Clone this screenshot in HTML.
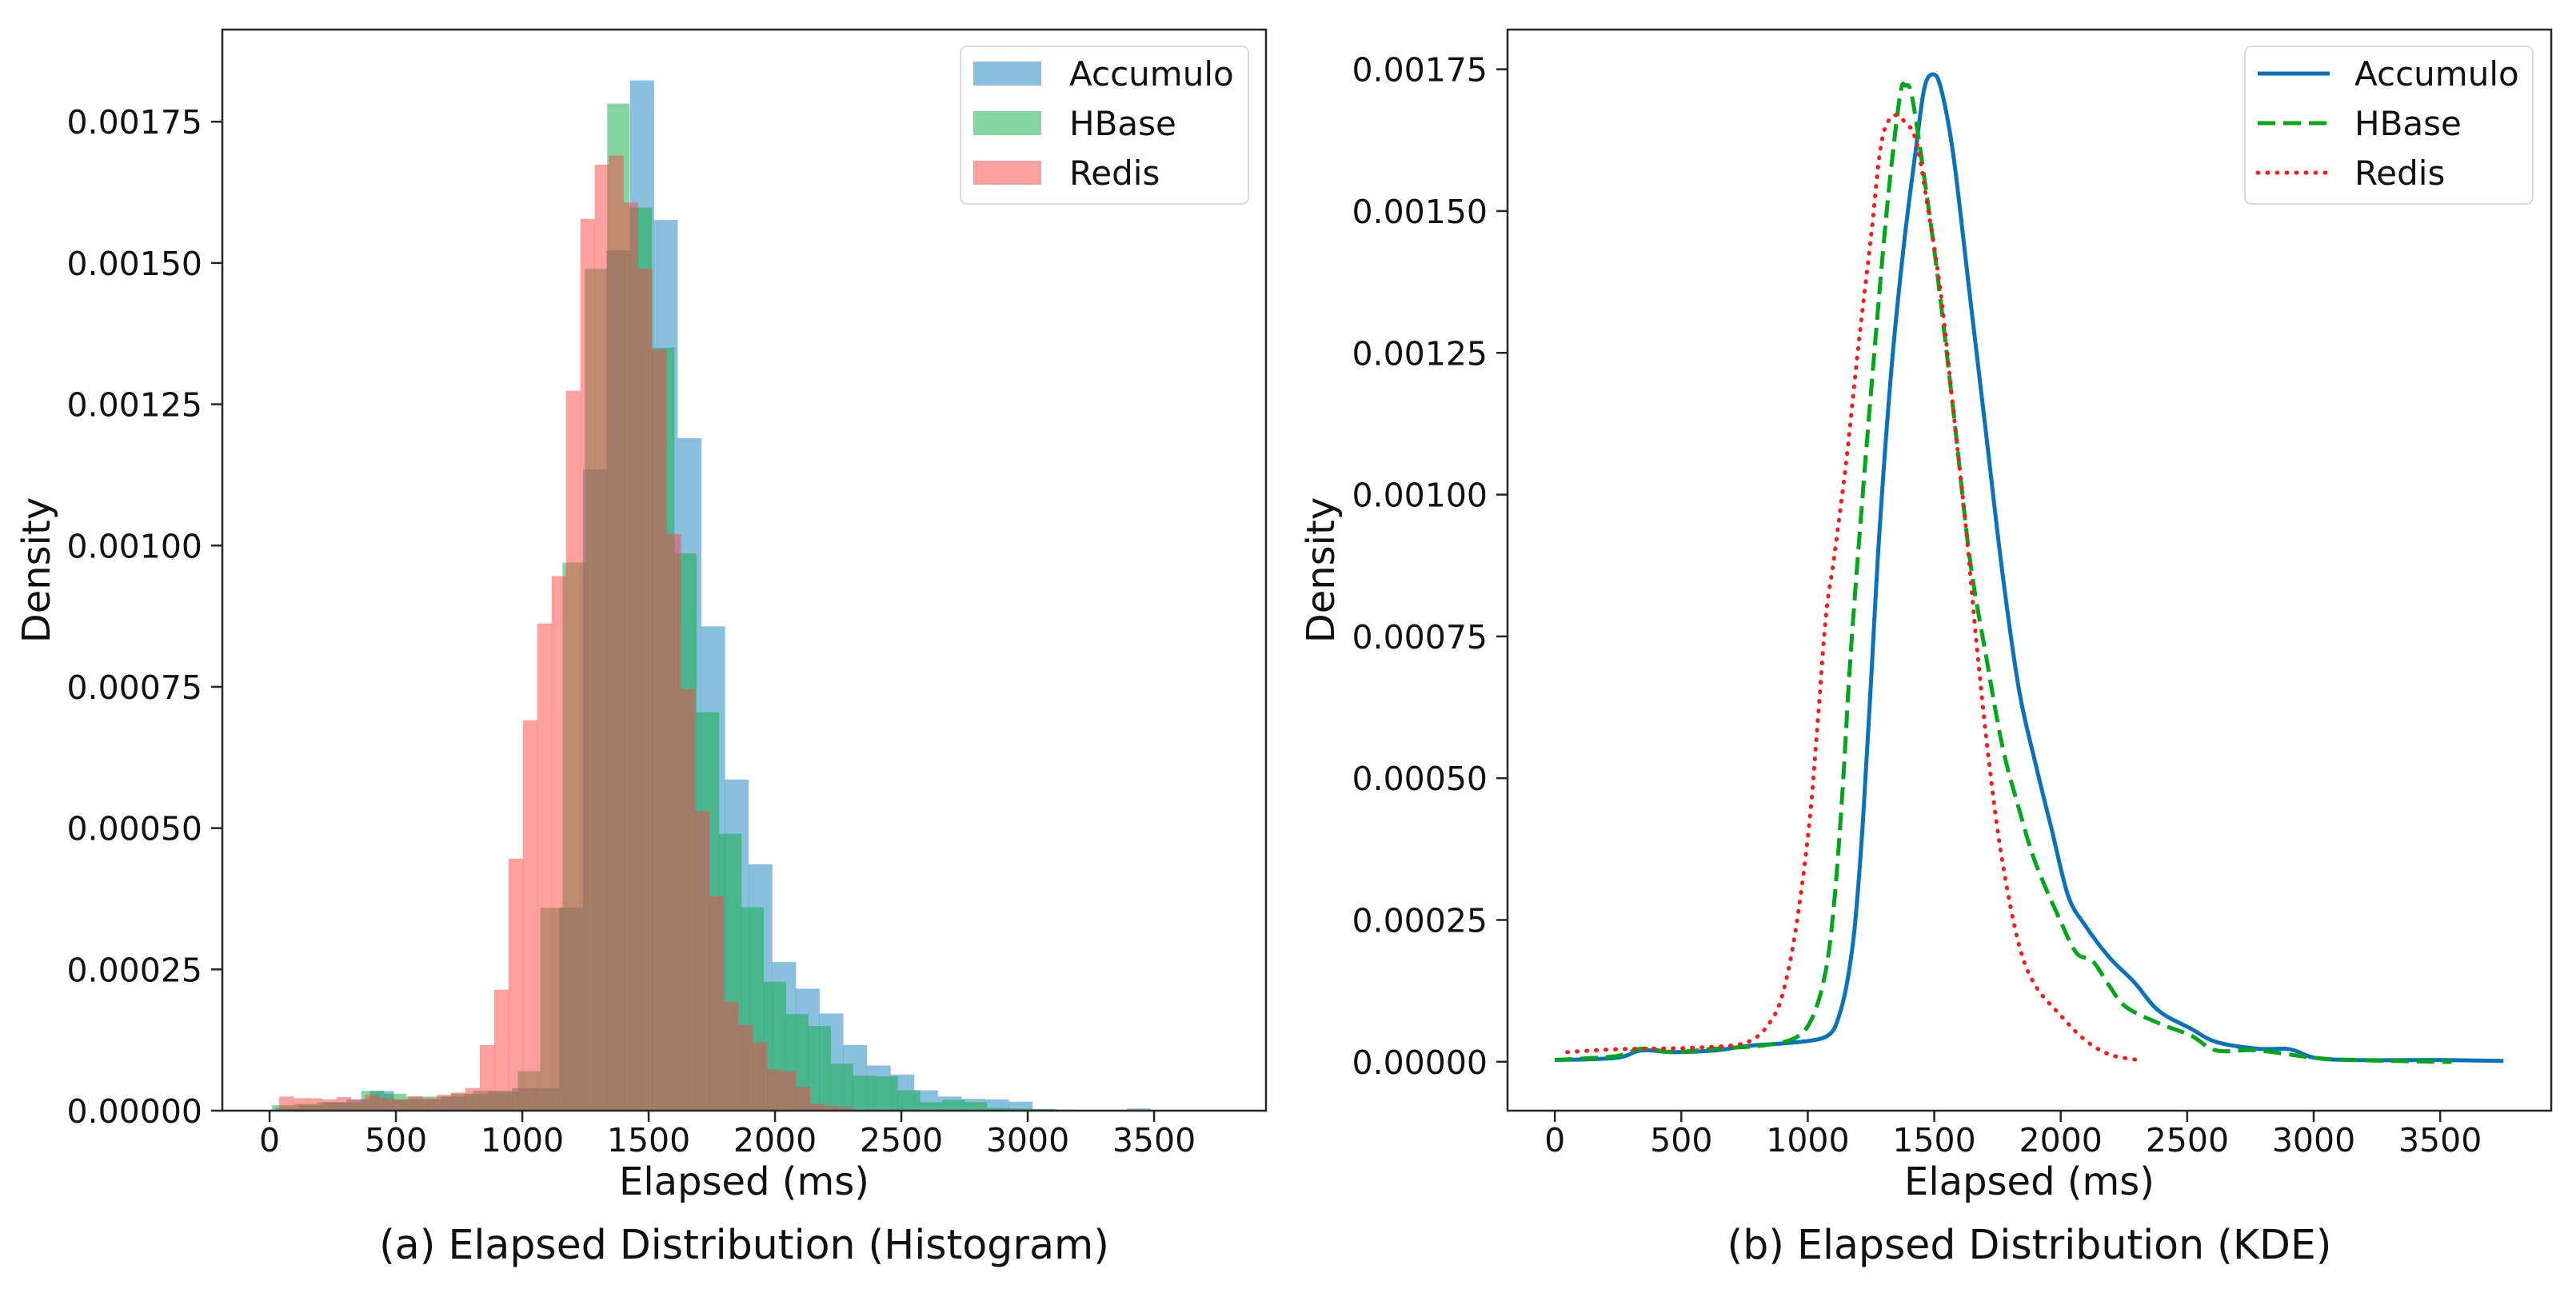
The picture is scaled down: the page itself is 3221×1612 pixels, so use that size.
<!DOCTYPE html>
<html><head><meta charset="utf-8">
<style>
html,body{margin:0;padding:0;background:#fff;}
svg{display:block;font-family:"DejaVu Sans","Liberation Sans",sans-serif;}
</style></head>
<body>
<svg id="fig" width="3221" height="1612" viewBox="0 0 3221 1612" xmlns="http://www.w3.org/2000/svg">
<rect x="0" y="0" width="3221" height="1612" fill="#fff"/>
<g id="left"></g>
<g id="right"></g>
</svg>
<script>
// ---- data ----
const seriesNames = ["Accumulo","HBase","Redis"];
const histStart = [23, 10, 37];
const histWidth = [93.6, 88.4, 56.8];
const accumuloHist = [0.000005,0.00001,0.000015,0.00002,0.000035,0.00002,0.00002,0.000025,0.00003,0.000035,0.00004,0.00004,0.000359,0.001135,0.001522,0.001823,0.001576,0.00119,0.000857,0.000586,0.000436,0.000263,0.000216,0.000172,0.000116,0.00008,0.000064,0.000036,0.000025,0.000021,0.00002,0.000016,0.000003,0.000002,0.000001,0.000001,0.000004,0.000001,0,0.000001];
const hbaseHist = [0.00001,0.000012,0.000015,0.000015,0.000035,0.00003,0.000025,0.000025,0.00003,0.000035,0.000034,0.00007,0.000359,0.00097,0.00149,0.001782,0.001598,0.00135,0.000986,0.000705,0.00049,0.00036,0.000228,0.000171,0.00015,0.000083,0.000062,0.000061,0.000036,0.000015,0.000019,0.000015,0.000005,0.000004,0.000003,0.000002,0.000001,0,0,0.000001];
const redisHist = [0.000025,0.000022,0.000022,0.00002,0.000024,0.00002,0.000028,0.000022,0.00002,0.000025,0.000022,0.000028,0.000032,0.00004,0.000116,0.000214,0.000446,0.000691,0.000862,0.000946,0.001274,0.001578,0.001674,0.00169,0.001607,0.00149,0.001347,0.00102,0.000746,0.00053,0.00038,0.000193,0.000152,0.000121,0.000073,0.00007,0.000042,0.000012,0.000008,0.000006];

const accumuloKdeX = [0,244,341,471,633,763,893,1023,1088,1120,1153,1185,1218,1250,1283,1331,1380,1429,1461,1494,1526,1575,1640,1705,1770,1835,1900,1964,2029,2094,2192,2289,2387,2516,2614,2776,2906,3003,3166,3490,3750];
const accumuloKdeY = [0.000003,0.000007,0.00002,0.000017,0.00002,0.000028,0.000032,0.000038,0.000049,0.000076,0.000134,0.000235,0.000424,0.000671,0.000932,0.001223,0.001441,0.001615,0.001717,0.001741,0.001717,0.0016,0.001354,0.001107,0.00086,0.000656,0.000526,0.00041,0.000293,0.000242,0.000184,0.000141,0.00009,0.000058,0.000035,0.000023,0.000022,0.000007,0.000003,0.000003,0.0000015];
const hbaseKdeX = [0,244,341,471,633,828,958,1023,1072,1104,1136,1169,1218,1266,1315,1364,1386,1412,1461,1510,1575,1640,1705,1770,1835,1900,1997,2062,2127,2192,2257,2387,2516,2614,2776,3003,3166,3490,3546];
const hbaseKdeY = [0.000003,0.00001,0.000023,0.000017,0.000023,0.000029,0.000044,0.000083,0.000163,0.000279,0.000468,0.000715,0.001005,0.001266,0.001513,0.001702,0.001721,0.001702,0.001557,0.001397,0.00115,0.000889,0.000715,0.000555,0.000446,0.000351,0.00025,0.000192,0.000177,0.000134,0.000097,0.000068,0.000046,0.00002,0.00002,0.000007,0.000003,0,0];
const redisKdeX = [49,244,568,763,860,909,958,1007,1039,1072,1104,1153,1201,1250,1289,1331,1380,1429,1477,1526,1575,1624,1672,1721,1770,1835,1900,1997,2094,2192,2305];
const redisKdeY = [0.000017,0.000022,0.000025,0.000035,0.000076,0.000134,0.00025,0.000424,0.000598,0.000787,0.000889,0.001063,0.001266,0.001455,0.001615,0.001666,0.001659,0.001622,0.001499,0.001354,0.00115,0.000947,0.000715,0.000511,0.000351,0.000206,0.000134,0.000083,0.000039,0.000013,0.000003];

const xTicks = [0,500,1000,1500,2000,2500,3000,3500];
const yTicks = [0,0.00025,0.0005,0.00075,0.001,0.00125,0.0015,0.00175];
const yTickLabels = ["0.00000","0.00025","0.00050","0.00075","0.00100","0.00125","0.00150","0.00175"];

// ---- helpers ----
const NS = "http://www.w3.org/2000/svg";
function mk(tag, attrs, parent){
  const e = document.createElementNS(NS, tag);
  for (const k in attrs) e.setAttribute(k, attrs[k]);
  parent.appendChild(e); return e;
}
function panel(g, L, R, T, B, xmin, xmax, ymin, ymax, ylabX, caption){
  const sx = v => L + (v - xmin) / (xmax - xmin) * (R - L);
  const sy = v => B - (v - ymin) / (ymax - ymin) * (B - T);
  return {sx, sy, draw(){
    const frame = mk("rect",{x:L,y:T,width:R-L,height:B-T,fill:"none",stroke:"#262626","stroke-width":2.5},g);
    
    
    xTicks.forEach(t=>{
      const x = sx(t);
      const tk = mk("line",{x1:x,x2:x,y1:B,y2:B+14,stroke:"#262626","stroke-width":2.5},g);
      
      
      const tx = mk("text",{x:x,y:1440,"font-size":41,"text-anchor":"middle",fill:"#111"},g);
      tx.textContent = t;
      
      
    });
    yTicks.forEach((t,i)=>{
      const y = sy(t);
      const tk = mk("line",{x1:L-14,x2:L,y1:y,y2:y,stroke:"#262626","stroke-width":2.5},g);
      
      
      const tx = mk("text",{x:L-25,y:y+15,"font-size":41,"text-anchor":"end",fill:"#111"},g);
      tx.textContent = yTickLabels[i];
      
      
    });
    const xl = mk("text",{x:(L+R)/2,y:1494,"font-size":48,"text-anchor":"middle",fill:"#111"},g);
    xl.textContent = "Elapsed (ms)";
    
    
    const yl = mk("text",{x:ylabX,y:(T+B)/2,"font-size":48,"text-anchor":"middle",fill:"#111",transform:`rotate(-90 ${ylabX} ${(T+B)/2})`},g);
    yl.textContent = "Density";
    
    
    const cp = mk("text",{x:(L+R)/2,y:1574,"font-size":50.5,"text-anchor":"middle",fill:"#111"},g);
    cp.textContent = caption;
    
    
  }};
}

// ---- left: histogram ----
const gL = document.getElementById("left");
const pL = panel(gL, 278, 1583, 37, 1389, -187, 3943, 0, 0.001913, 62, "(a) Elapsed Distribution (Histogram)");
const histFill = ["#1381c1","#0da93f","#f94141"];
const histData = [accumuloHist, hbaseHist, redisHist];
const bars = mk("g",{},gL);


histData.forEach((arr,s)=>{
  arr.forEach((v,i)=>{
    const x0 = pL.sx(histStart[s] + i*histWidth[s]);
    const x1 = pL.sx(histStart[s] + (i+1)*histWidth[s]);
    const y = pL.sy(v);
    const r = mk("rect",{x:x0,y:y,width:x1-x0+0.3,height:pL.sy(0)-y,fill:histFill[s],"fill-opacity":0.5},bars);
    
    
  });
});
pL.draw();
// legend left
const legL = mk("g",{},gL);


mk("rect",{x:1201,y:58,width:360,height:197,rx:8,fill:"#fff","fill-opacity":0.8,stroke:"#d9d9d9","stroke-width":2},legL);
seriesNames.forEach((n,i)=>{
  const yc = 92 + i*62;
  const ent = mk("g",{},legL);
  
  
  mk("rect",{x:1217,y:yc-15,width:85,height:30,fill:histFill[i],"fill-opacity":0.5},ent);
  const t = mk("text",{x:1337,y:yc+15,"font-size":42,fill:"#111"},ent);
  t.textContent = n;
});

// ---- right: KDE ----
const gR = document.getElementById("right");
const pR = panel(gR, 1885, 3190, 37, 1389, -187, 3939, -0.0000863, 0.00182, 1668, "(b) Elapsed Distribution (KDE)");
pR.draw();
function smoothPath(xs, ys, p){
  const pts = xs.map((x,i)=>[p.sx(x), p.sy(ys[i])]);
  let d = `M${pts[0][0]},${pts[0][1]}`;
  for (let i=0;i<pts.length-1;i++){
    const p0 = pts[Math.max(0,i-1)], p1 = pts[i], p2 = pts[i+1], p3 = pts[Math.min(pts.length-1,i+2)];
    const c1 = [p1[0]+(p2[0]-p0[0])/6, p1[1]+(p2[1]-p0[1])/6];
    const c2 = [p2[0]-(p3[0]-p1[0])/6, p2[1]-(p3[1]-p1[1])/6];
    d += ` C${c1[0]},${c1[1]} ${c2[0]},${c2[1]} ${p2[0]},${p2[1]}`;
  }
  return d;
}
const kdeStyle = [
  {stroke:"#0a72ba", dash:"", cap:"butt"},
  {stroke:"#00a61a", dash:"22,10", cap:"butt"},
  {stroke:"#ff1a1a", dash:"1,11", cap:"round"}
];
const kdeX = [accumuloKdeX, hbaseKdeX, redisKdeX];
const kdeY = [accumuloKdeY, hbaseKdeY, redisKdeY];
[0,1,2].forEach(s=>{
  const path = mk("path",{d:smoothPath(kdeX[s],kdeY[s],pR),fill:"none",stroke:kdeStyle[s].stroke,"stroke-width":5,"stroke-dasharray":kdeStyle[s].dash,"stroke-linecap":kdeStyle[s].cap,"stroke-linejoin":"round"},gR);
  
  
});
const legR = mk("g",{},gR);


mk("rect",{x:2807,y:58,width:360,height:197,rx:8,fill:"#fff","fill-opacity":0.8,stroke:"#d9d9d9","stroke-width":2},legR);
seriesNames.forEach((n,i)=>{
  const yc = 92 + i*62;
  const ent = mk("g",{},legR);
  
  
  mk("line",{x1:2823,x2:2913,y1:yc,y2:yc,stroke:kdeStyle[i].stroke,"stroke-width":5,"stroke-dasharray":kdeStyle[i].dash,"stroke-linecap":kdeStyle[i].cap},ent);
  const t = mk("text",{x:2944,y:yc+15,"font-size":42,fill:"#111"},ent);
  t.textContent = n;
});
</script>
</body></html>
